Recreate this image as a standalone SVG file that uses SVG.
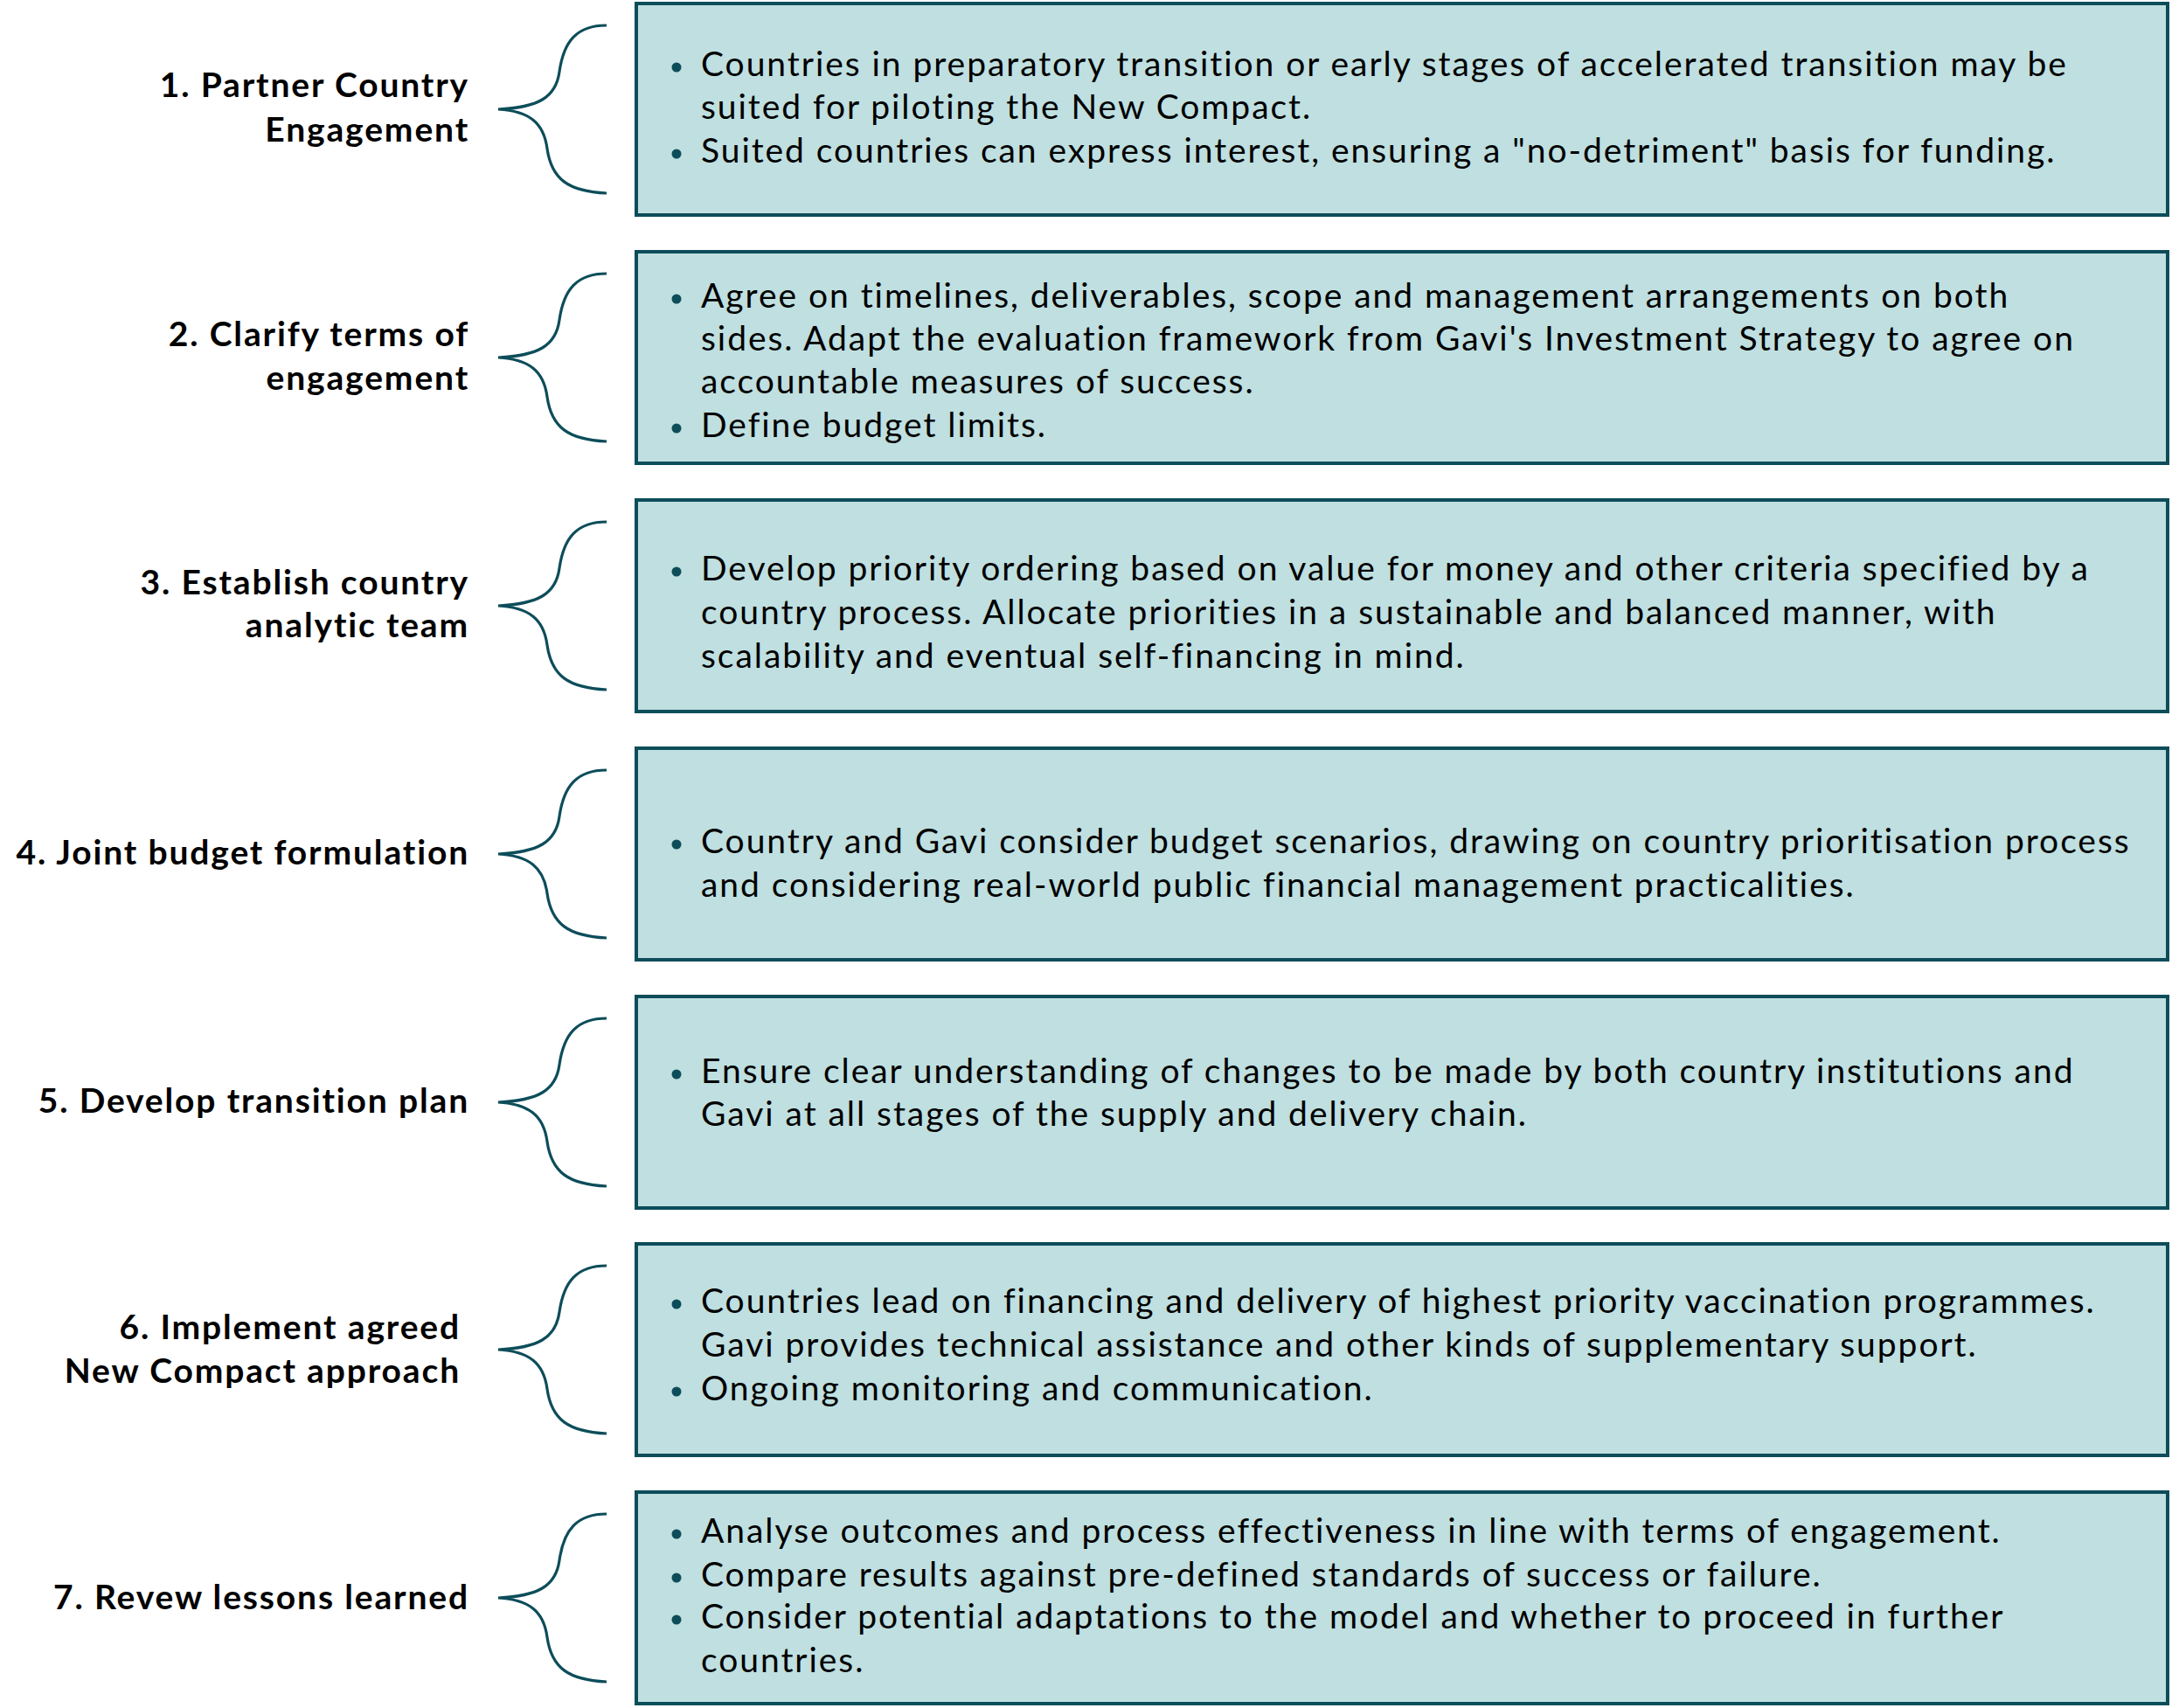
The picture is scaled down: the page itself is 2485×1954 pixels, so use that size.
<svg xmlns="http://www.w3.org/2000/svg" width="2485" height="1954" viewBox="0 0 2485 1954">
<style>
.box{fill:#bfdfe0;stroke:#0d4d5a;stroke-width:4}
.brace{fill:none;stroke:#0d4d5a;stroke-width:3.2}
.lbl{font-family:Lato,"Liberation Sans",sans-serif;font-weight:bold;font-size:39px;letter-spacing:1.85px;fill:#000;text-anchor:end}
.txt{font-family:Lato,"Liberation Sans",sans-serif;font-size:39px;letter-spacing:1.95px;fill:#000}
.dot{fill:#0d4d5a}
</style>
<defs>
<path id="br" class="brace" d="M694,27 C660,27 645,45 640,80 C636,110 615,121 570,123 C605,125 622,138 626,168 C631,203 650,217 694,219"/>
</defs>
<rect width="2485" height="1954" fill="#fff"/>
<g id="connectors">
<use href="#br" y="2"/>
<use href="#br" y="286"/>
<use href="#br" y="570"/>
<use href="#br" y="854"/>
<use href="#br" y="1138"/>
<use href="#br" y="1421"/>
<use href="#br" y="1705"/>
</g>
<g id="step1">
<text class="lbl" x="537" y="111">1. Partner Country</text>
<text class="lbl" x="537" y="162">Engagement</text>
<rect class="box" x="728" y="4" width="1752" height="242"/>
<circle class="dot" cx="774" cy="77" r="5.5"/>
<circle class="dot" cx="774" cy="176" r="5.5"/>
<text class="txt" x="802" y="87">Countries in preparatory transition or early stages of accelerated transition may be</text>
<text class="txt" x="802" y="136">suited for piloting the New Compact.</text>
<text class="txt" x="802" y="186">Suited countries can express interest, ensuring a "no-detriment" basis for funding.</text>
</g>
<g id="step2">
<text class="lbl" x="537" y="396">2. Clarify terms of</text>
<text class="lbl" x="537" y="446">engagement</text>
<rect class="box" x="728" y="288" width="1752" height="242"/>
<circle class="dot" cx="774" cy="342" r="5.5"/>
<circle class="dot" cx="774" cy="490" r="5.5"/>
<text class="txt" x="802" y="352">Agree on timelines, deliverables, scope and management arrangements on both</text>
<text class="txt" x="802" y="401">sides. Adapt the evaluation framework from Gavi's Investment Strategy to agree on</text>
<text class="txt" x="802" y="450">accountable measures of success.</text>
<text class="txt" x="802" y="500">Define budget limits.</text>
</g>
<g id="step3">
<text class="lbl" x="537" y="680">3. Establish country</text>
<text class="lbl" x="537" y="729">analytic team</text>
<rect class="box" x="728" y="572" width="1752" height="242"/>
<circle class="dot" cx="774" cy="654" r="5.5"/>
<text class="txt" x="802" y="664">Develop priority ordering based on value for money and other criteria specified by a</text>
<text class="txt" x="802" y="714">country process. Allocate priorities in a sustainable and balanced manner, with</text>
<text class="txt" x="802" y="764">scalability and eventual self-financing in mind.</text>
</g>
<g id="step4">
<text class="lbl" x="537" y="989">4. Joint budget formulation</text>
<rect class="box" x="728" y="856" width="1752" height="242"/>
<circle class="dot" cx="774" cy="966" r="5.5"/>
<text class="txt" x="802" y="976">Country and Gavi consider budget scenarios, drawing on country prioritisation process</text>
<text class="txt" x="802" y="1026">and considering real-world public financial management practicalities.</text>
</g>
<g id="step5">
<text class="lbl" x="537" y="1273">5. Develop transition plan</text>
<rect class="box" x="728" y="1140" width="1752" height="242"/>
<circle class="dot" cx="774" cy="1229" r="5.5"/>
<text class="txt" x="802" y="1239">Ensure clear understanding of changes to be made by both country institutions and</text>
<text class="txt" x="802" y="1288">Gavi at all stages of the supply and delivery chain.</text>
</g>
<g id="step6">
<text class="lbl" x="527" y="1532">6. Implement agreed</text>
<text class="lbl" x="527" y="1582">New Compact approach</text>
<rect class="box" x="728" y="1423" width="1752" height="242"/>
<circle class="dot" cx="774" cy="1492" r="5.5"/>
<circle class="dot" cx="774" cy="1592" r="5.5"/>
<text class="txt" x="802" y="1502">Countries lead on financing and delivery of highest priority vaccination programmes.</text>
<text class="txt" x="802" y="1552">Gavi provides technical assistance and other kinds of supplementary support.</text>
<text class="txt" x="802" y="1602">Ongoing monitoring and communication.</text>
</g>
<g id="step7">
<text class="lbl" x="537" y="1841">7. Revew lessons learned</text>
<rect class="box" x="728" y="1707" width="1752" height="242"/>
<circle class="dot" cx="774" cy="1755" r="5.5"/>
<circle class="dot" cx="774" cy="1805" r="5.5"/>
<circle class="dot" cx="774" cy="1853" r="5.5"/>
<text class="txt" x="802" y="1765">Analyse outcomes and process effectiveness in line with terms of engagement.</text>
<text class="txt" x="802" y="1815">Compare results against pre-defined standards of success or failure.</text>
<text class="txt" x="802" y="1863">Consider potential adaptations to the model and whether to proceed in further</text>
<text class="txt" x="802" y="1913">countries.</text>
</g>
</svg>
